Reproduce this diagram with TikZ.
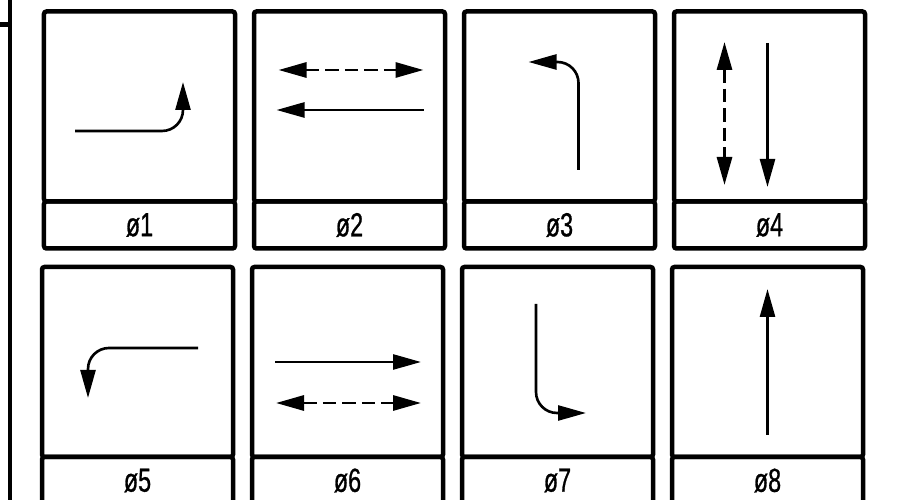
\documentclass[tikz,border=0pt]{standalone}
\usepackage{fontspec}
\usepackage{tikz}
\usetikzlibrary{arrows.meta, positioning, calc}
\newfontfamily\cadfont[FakeStretch=0.7, FakeBold=0.8]{Liberation Sans}

\begin{document}
\begin{tikzpicture}[>={Triangle[length=0.56cm, width=0.3cm]},
    panel/.style={rectangle, draw, line width=0.09cm, rounded corners=0.05cm,
                  outer sep=0pt, minimum width=3.82cm, minimum height=3.8cm},
    tag/.style={rectangle, draw, line width=0.09cm, rounded corners=0.05cm,
                outer sep=0pt, inner sep=0pt,
                minimum width=3.82cm, minimum height=0.94cm,
                font=\cadfont\fontsize{19}{21}\selectfont},
    flow/.style={->, line width=1.5pt},
    both/.style={<->, line width=1.7pt, dash pattern=on 0.27cm off 0.12cm},
    turn/.style={flow, rounded corners=0.42cm}]

% Frame of the sheet
\useasboundingbox (0,0) rectangle (18.38,-10);
\clip (0,0) rectangle (18.38,-10);
\draw[line width=0.08cm] (0.19,0) -- (0.19,-10);
\draw[line width=0.1cm] (0,-0.49) -- (0.19,-0.49);

% Phase panels with their tags
\foreach \n/\x/\y in {1/2.79/-2.13, 2/6.99/-2.13, 3/11.19/-2.13, 4/15.39/-2.13,
                      5/2.75/-7.24, 6/6.95/-7.24, 7/11.15/-7.24, 8/15.35/-7.24} {
    \node[panel] (p\n) at (\x,\y) {};
    \node[tag, below=0pt of p\n] (t\n) {ø\n};
}

% Phase 1: right turn
\draw[turn] ($(p1)+(-1.29,-0.49)$) -- ($(p1)+(0.87,-0.49)$) -- ($(p1)+(0.87,0.49)$);

% Phase 2: through westbound, pedestrians both ways
\draw[both] ($(p2)+(-1.42,0.73)$) -- ($(p2)+(1.48,0.73)$);
\draw[flow] ($(p2)+(1.48,-0.07)$) -- ($(p2)+(-1.46,-0.07)$);

% Phase 3: left turn
\draw[turn] ($(p3)+(0.38,-1.27)$) -- ($(p3)+(0.38,0.89)$) -- ($(p3)+(-0.62,0.89)$);

% Phase 4: through southbound, pedestrians both ways
\draw[both] ($(p4)+(-0.90,1.29)$) -- ($(p4)+(-0.90,-1.57)$);
\draw[flow] ($(p4)+(-0.04,1.27)$) -- ($(p4)+(-0.04,-1.61)$);

% Phase 5: left turn
\draw[turn] ($(p5)+(1.21,0.28)$) -- ($(p5)+(-0.99,0.28)$) -- ($(p5)+(-0.99,-0.72)$);

% Phase 6: through eastbound, pedestrians both ways
\draw[flow] ($(p6)+(-1.45,0)$) -- ($(p6)+(1.47,0)$);
\draw[both] ($(p6)+(-1.43,-0.82)$) -- ($(p6)+(1.47,-0.82)$);

% Phase 7: left turn
\draw[turn] ($(p7)+(-0.43,1.16)$) -- ($(p7)+(-0.43,-1.02)$) -- ($(p7)+(0.57,-1.02)$);

% Phase 8: through northbound
\draw[flow] ($(p8)+(0,-1.46)$) -- ($(p8)+(0,1.46)$);

\end{tikzpicture}
\end{document}
